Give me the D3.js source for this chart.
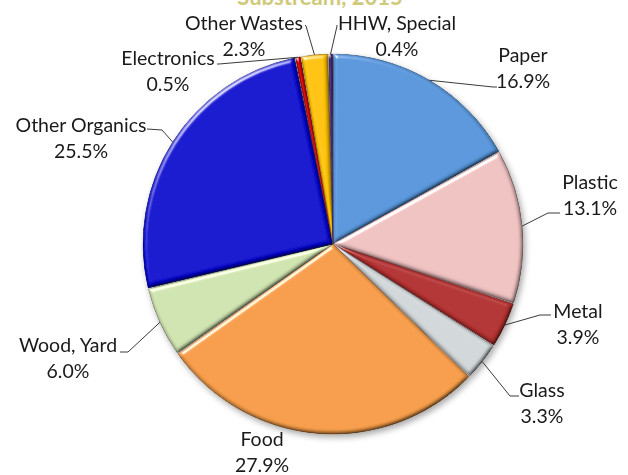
<!DOCTYPE html>
<html>
<head>
<meta charset="utf-8">
<script src="https://cdn.jsdelivr.net/npm/d3@7"></script>
<style>
  html, body { margin: 0; padding: 0; background: #fff; }
  svg { display: block; }
  text { font-family: Lato, "Open Sans", sans-serif; fill: #1a1a1a; }
</style>
</head>
<body>
<svg id="chart" width="628" height="475"></svg>
<script>
// Waste composition by material substream, 2015 (percent of total)
const categories = ["Paper", "Plastic", "Metal", "Glass", "Food", "Wood, Yard",
                    "Other Organics", "Electronics", "Other Wastes", "HHW, Special"];
const shares = [16.9, 13.1, 3.9, 3.3, 27.9, 6.0, 25.5, 0.5, 2.3, 0.4];
const colors = ["#5a98dc", "#f1c3c3", "#b53232", "#d3d8db", "#f89f4b", "#d1e5b1",
                "#0808d0", "#d10000", "#ffc400", "#4a1f78"];
const titleText = "Substream, 2015";

// Label placement (label centre, then the leader line's start and elbow)
const labelLayout = {
  "Paper":          { x: 523, y: 55,  line: [[497, 87], [493, 87]] },
  "Plastic":        { x: 590, y: 182, line: [[560, 213], [548, 213]] },
  "Metal":          { x: 578, y: 311, line: [[551, 315], [540, 315]] },
  "Glass":          { x: 542, y: 390, line: [[519, 396], [510, 396]] },
  "Food":           { x: 262, y: 439, line: null },
  "Wood, Yard":     { x: 68,  y: 345, line: [[120, 352], [128, 352]] },
  "Other Organics": { x: 81,  y: 125, line: [[147, 129], [162, 130]] },
  "Electronics":    { x: 168, y: 58,  line: [[217, 64], [219, 64]] },
  "Other Wastes":   { x: 244, y: 23,  line: [[305, 25], [306, 26]] },
  "HHW, Special":   { x: 397, y: 23,  line: [[337, 25], [337, 26]] }
};

const data = categories.map((c, i) => ({ name: c, value: shares[i], color: colors[i] }));

const svg = d3.select("#chart");
const cx = 333, cy = 244, R = 190;

const defs = svg.append("defs");
// soft drop shadow under the pie
const shadow = defs.append("filter").attr("id", "shadow")
  .attr("x", "-10%").attr("y", "-10%").attr("width", "120%").attr("height", "120%");
shadow.append("feDropShadow").attr("dx", 2).attr("dy", 3)
  .attr("stdDeviation", 3).attr("flood-color", "#000").attr("flood-opacity", 0.35);

// bevel: highlight on edges facing the upper-left, shade on the opposite edges
const bevel = defs.append("filter").attr("id", "bevel")
  .attr("x", "-5%").attr("y", "-5%").attr("width", "110%").attr("height", "110%");
bevel.append("feGaussianBlur").attr("in", "SourceAlpha").attr("stdDeviation", 2.2).attr("result", "blur");
const spec = bevel.append("feSpecularLighting").attr("in", "blur")
  .attr("surfaceScale", 4).attr("specularConstant", 0.9).attr("specularExponent", 26)
  .attr("lighting-color", "#ffffff").attr("result", "spec");
spec.append("feDistantLight").attr("azimuth", 235).attr("elevation", 22);
bevel.append("feComposite").attr("in", "spec").attr("in2", "SourceAlpha")
  .attr("operator", "in").attr("result", "specOut");
const diff = bevel.append("feDiffuseLighting").attr("in", "blur")
  .attr("surfaceScale", 4).attr("diffuseConstant", 1.12)
  .attr("lighting-color", "#ffffff").attr("result", "diff");
diff.append("feDistantLight").attr("azimuth", 235).attr("elevation", 62);
bevel.append("feComposite").attr("in", "SourceGraphic").attr("in2", "diff")
  .attr("operator", "arithmetic").attr("k1", 1).attr("k2", 0).attr("k3", 0).attr("k4", 0)
  .attr("result", "shaded");
bevel.append("feComposite").attr("in", "shaded").attr("in2", "specOut")
  .attr("operator", "arithmetic").attr("k1", 0).attr("k2", 1).attr("k3", 0.8).attr("k4", 0)
  .attr("result", "lit");
bevel.append("feComposite").attr("in", "lit").attr("in2", "SourceAlpha").attr("operator", "in");

// title (partly above the top edge)
svg.append("text")
  .attr("x", 320).attr("y", 5)
  .attr("text-anchor", "middle")
  .style("font-size", "22px").style("font-weight", "bold")
  .style("fill", "#cfc97a")
  .text(titleText);

const pie = d3.pie().value(d => d.value).sort(null);
const arcs = pie(data);
const arc = d3.arc().innerRadius(0).outerRadius(R).padAngle(0.006);
const edgeArc = d3.arc().innerRadius(R).outerRadius(R);

const g = svg.append("g").attr("transform", `translate(${cx},${cy})`);
const shadowG = g.append("g").attr("filter", "url(#shadow)");

shadowG.selectAll("path.slice")
  .data(arcs)
  .join("path")
  .attr("class", "slice")
  .attr("d", arc)
  .attr("fill", d => d.data.color)
  .attr("stroke", d => d3.color(d.data.color).darker(1.2))
  .attr("stroke-width", 0.9)
  .attr("filter", "url(#bevel)");

// leader lines
const lines = svg.append("g").attr("fill", "none").attr("stroke", "#3a3a3a").attr("stroke-width", 1);
arcs.forEach(d => {
  const L = labelLayout[d.data.name];
  if (!L.line) return;
  const [ex, ey] = edgeArc.centroid(d);
  const pts = L.line.concat([[cx + ex, cy + ey]]);
  lines.append("path").attr("d", d3.line()(pts));
});

// labels
const labels = svg.append("g");
arcs.forEach(d => {
  const L = labelLayout[d.data.name];
  const t = labels.append("text")
    .attr("text-anchor", "middle")
    .style("font-size", "19.5px");
  t.append("tspan").attr("x", L.x).attr("y", L.y + 7).text(d.data.name);
  t.append("tspan").attr("x", L.x).attr("y", L.y + 33).text(d.data.value.toFixed(1) + "%");
});
</script>
</body>
</html>
